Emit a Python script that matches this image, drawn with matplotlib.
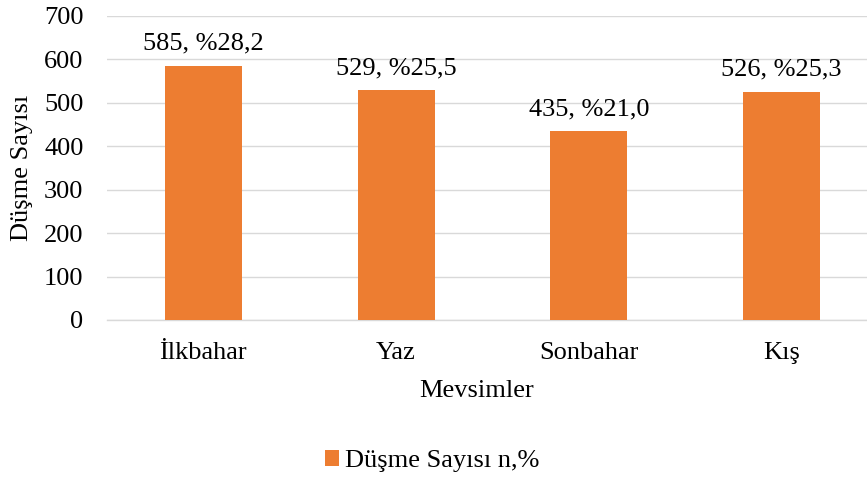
import matplotlib.pyplot as plt
from matplotlib.patches import Patch
import numpy as np

plt.rcParams['font.family'] = ['Liberation Serif', 'DejaVu Serif']

BAR_COLOR = '#ED7D31'
GRID_COLOR = '#D9D9D9'

seasons = ['İlkbahar', 'Yaz', 'Sonbahar', 'Kış']
falls = [585, 529, 435, 526]
percents = ['28,2', '25,5', '21,0', '25,3']

fig = plt.figure(figsize=(8.67, 4.79), dpi=100)
ax = fig.add_axes([107 / 867, 1 - 320 / 479, (878 - 107) / 867, (320 - 16) / 479])

x = np.arange(len(seasons))
bars = ax.bar(x, falls, width=0.40, color=BAR_COLOR, zorder=3)

for bar, n, p in zip(bars, falls, percents):
    ax.annotate(f'{n}, %{p}', (bar.get_x() + bar.get_width() / 2, n),
                xytext=(0, 8), textcoords='offset points',
                ha='center', va='bottom', fontsize=19)

ax.set_xlim(-0.5, len(seasons) - 0.5)
ax.set_ylim(0, 700)
ax.set_yticks(range(0, 701, 100))
ax.set_xticks(x)
ax.set_xticklabels(seasons)
ax.tick_params(axis='both', length=0, labelsize=19)
ax.tick_params(axis='y', pad=17)
ax.tick_params(axis='x', pad=16)

ax.grid(axis='y', color=GRID_COLOR, linewidth=1.0, zorder=0)
for side in ['top', 'right', 'left']:
    ax.spines[side].set_visible(False)
ax.spines['bottom'].set_color(GRID_COLOR)
ax.spines['bottom'].set_linewidth(1.0)

fig.text(22 / 867, 1 - 168 / 479, 'Düşme Sayısı', rotation=90,
         ha='center', va='center', fontsize=19)
fig.text(477 / 867, 1 - 391 / 479, 'Mevsimler', ha='center', va='center', fontsize=19)

handle = Patch(facecolor=BAR_COLOR, edgecolor='none')
fig.legend([handle], ['Düşme Sayısı n,%'], loc='center',
           bbox_to_anchor=(432 / 867, 1 - 461 / 479), frameon=False,
           fontsize=19, handlelength=0.55, handleheight=0.55,
           handletextpad=0.2, borderpad=0)

fig.savefig('out.png', dpi=100)
